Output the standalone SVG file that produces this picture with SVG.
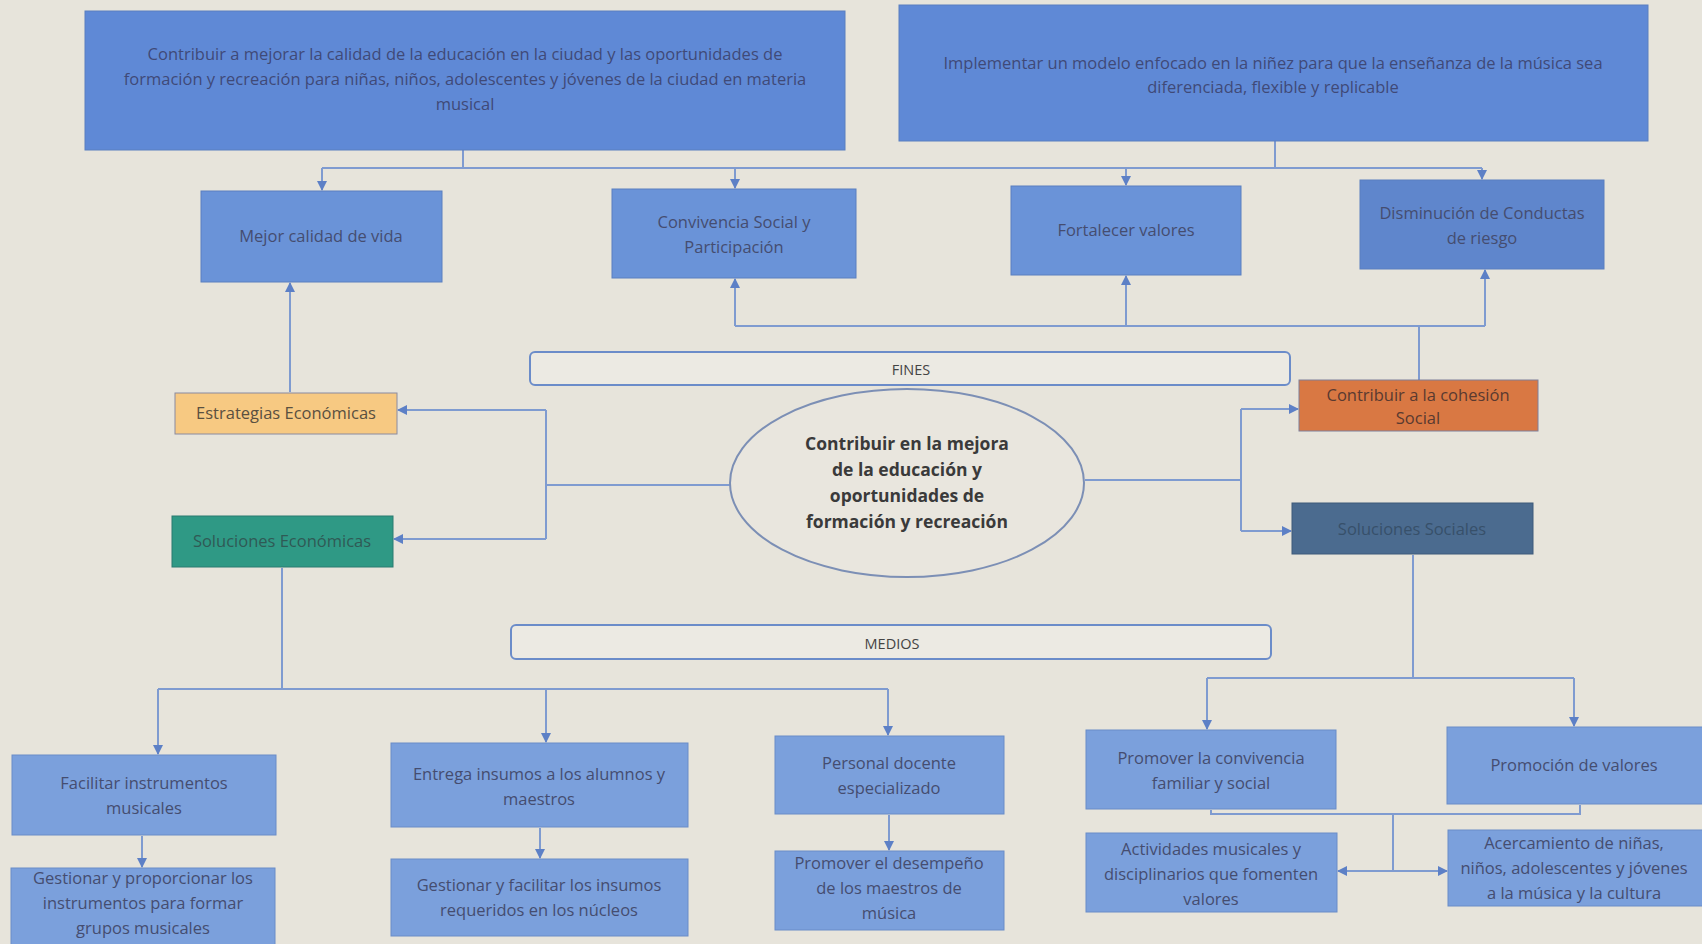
<svg xmlns="http://www.w3.org/2000/svg" width="1702" height="944" viewBox="0 0 1702 944">
<style>
.bg{fill:#e7e4db}
.box{fill:#6a93d8;stroke:#5a7fc0;stroke-width:1}
.top{fill:#5f89d6;stroke:#5a7fc0;stroke-width:1}
.low{fill:#7ba0dc;stroke:#6a8cc8;stroke-width:1}
.bar{fill:#eceae3;stroke:#6b8cc9;stroke-width:2}
.t{font-family:"Open Sans","Liberation Sans",sans-serif;font-size:16.5px;fill:#454d70;text-anchor:middle}
.ts{font-family:"Open Sans","Liberation Sans",sans-serif;font-size:16.5px;fill:#3f4a78;text-anchor:middle}
.tb{font-family:"Open Sans","Liberation Sans",sans-serif;font-size:17.5px;font-weight:bold;fill:#3a3a3a;text-anchor:middle}
.c{fill:none;stroke:#7f9bd0;stroke-width:2}
</style>
<defs>
<marker id="ah" viewBox="0 0 10 10" refX="9" refY="5" markerWidth="5" markerHeight="5" orient="auto-start-reverse"><path d="M0,0 L10,5 L0,10 z" fill="#5d80c6"/></marker>
</defs>
<rect class="bg" x="0" y="0" width="1702" height="944"/>

<g id="connectors">
<path class="c" d="M463,150 V168"/>
<path class="c" d="M1275,141 V168"/>
<path class="c" d="M322,168 H1482"/>
<path class="c" marker-end="url(#ah)" d="M322,168 V190"/>
<path class="c" marker-end="url(#ah)" d="M735,168 V188"/>
<path class="c" marker-end="url(#ah)" d="M1126,168 V185"/>
<path class="c" marker-end="url(#ah)" d="M1482,168 V179"/>
<path class="c" marker-end="url(#ah)" d="M290,392 V283"/>
<path class="c" d="M1419,380 V326 M735,326 H1485"/>
<path class="c" marker-end="url(#ah)" d="M735,326 V279"/>
<path class="c" marker-end="url(#ah)" d="M1126,326 V276"/>
<path class="c" marker-end="url(#ah)" d="M1485,326 V270"/>
<path class="c" d="M731,485 H546 M546,410 V539"/>
<path class="c" marker-end="url(#ah)" d="M546,410 H398"/>
<path class="c" marker-end="url(#ah)" d="M546,539 H394"/>
<path class="c" d="M1085,480 H1241 M1241,409 V531"/>
<path class="c" marker-end="url(#ah)" d="M1241,409 H1298"/>
<path class="c" marker-end="url(#ah)" d="M1241,531 H1291"/>
<path class="c" d="M282,568 V689 M158,689 H888"/>
<path class="c" marker-end="url(#ah)" d="M158,689 V754"/>
<path class="c" marker-end="url(#ah)" d="M546,689 V742"/>
<path class="c" marker-end="url(#ah)" d="M888,689 V735"/>
<path class="c" d="M1413,555 V678 M1207,678 H1574"/>
<path class="c" marker-end="url(#ah)" d="M1207,678 V729"/>
<path class="c" marker-end="url(#ah)" d="M1574,678 V726"/>
<path class="c" marker-end="url(#ah)" d="M142,836 V867"/>
<path class="c" marker-end="url(#ah)" d="M540,828 V858"/>
<path class="c" marker-end="url(#ah)" d="M889,815 V850"/>
<path class="c" d="M1211,810 V814 H1580 V805 M1393,814 V871"/>
<path class="c" marker-end="url(#ah)" d="M1393,871 H1338"/>
<path class="c" marker-end="url(#ah)" d="M1393,871 H1447"/>
</g>

<g id="objetivo1">
<rect class="top" x="85" y="11" width="760" height="139"/>
<text class="ts" x="465" y="60">Contribuir a mejorar la calidad de la educación en la ciudad y las oportunidades de</text>
<text class="ts" x="465" y="85">formación y recreación para niñas, niños, adolescentes y jóvenes de la ciudad en materia</text>
<text class="ts" x="465" y="110">musical</text>
</g>
<g id="objetivo2">
<rect class="top" x="899" y="5" width="749" height="136"/>
<text class="ts" x="1273" y="69">Implementar un modelo enfocado en la niñez para que la enseñanza de la música sea</text>
<text class="ts" x="1273" y="93">diferenciada, flexible y replicable</text>
</g>

<g id="mejor"><rect class="box" x="201" y="191" width="241" height="91"/><text class="t" x="321" y="242">Mejor calidad de vida</text></g>
<g id="convivencia"><rect class="box" x="612" y="189" width="244" height="89"/><text class="t" x="734" y="228">Convivencia Social y</text><text class="t" x="734" y="253">Participación</text></g>
<g id="fortalecer"><rect class="box" x="1011" y="186" width="230" height="89"/><text class="t" x="1126" y="236">Fortalecer valores</text></g>
<g id="disminucion"><rect class="box" x="1360" y="180" width="244" height="89" style="fill:#5f86cc"/><text class="t" x="1482" y="219">Disminución de Conductas</text><text class="t" x="1482" y="244">de riesgo</text></g>

<g id="fines"><rect class="bar" x="530" y="352" width="760" height="33" rx="5"/><text class="t" x="911" y="375" style="font-size:14.5px;fill:#444">FINES</text></g>
<g id="medios"><rect class="bar" x="511" y="625" width="760" height="34" rx="5"/><text class="t" x="892" y="649" style="font-size:14.5px;fill:#444">MEDIOS</text></g>

<g id="estrategias"><rect x="175" y="393" width="222" height="41" style="fill:#f7c982;stroke:#8a8aa0;stroke-width:1"/><text class="t" x="286" y="419" style="fill:#5a5040">Estrategias Económicas</text></g>
<g id="solucionesEco"><rect x="172" y="516" width="221" height="51" style="fill:#2f9985;stroke:#2a7a70;stroke-width:1"/><text class="t" x="282" y="547" style="fill:#2f5a55">Soluciones Económicas</text></g>
<g id="cohesion"><rect x="1299" y="380" width="239" height="51" style="fill:#d97843;stroke:#7f7f9a;stroke-width:1"/><text class="t" x="1418" y="401" style="fill:#5a3a30">Contribuir a la cohesión</text><text class="t" x="1418" y="424" style="fill:#5a3a30">Social</text></g>
<g id="solucionesSoc"><rect x="1292" y="503" width="241" height="51" style="fill:#4b6b8f;stroke:#3f5a7a;stroke-width:1"/><text class="t" x="1412" y="535" style="fill:#37506a">Soluciones Sociales</text></g>

<g id="centro">
<ellipse cx="907" cy="483" rx="177" ry="94" style="fill:#e9e6de;stroke:#7c8fb5;stroke-width:2"/>
<text class="tb" x="907" y="450">Contribuir en la mejora</text>
<text class="tb" x="907" y="476">de la educación y</text>
<text class="tb" x="907" y="502">oportunidades de</text>
<text class="tb" x="907" y="528">formación y recreación</text>
</g>

<g id="facilitar"><rect class="low" x="12" y="755" width="264" height="80"/><text class="t" x="144" y="789">Facilitar instrumentos</text><text class="t" x="144" y="814">musicales</text></g>
<g id="gestionar1"><rect class="low" x="11" y="868" width="264" height="82"/><text class="t" x="143" y="884">Gestionar y proporcionar los</text><text class="t" x="143" y="909">instrumentos para formar</text><text class="t" x="143" y="934">grupos musicales</text></g>
<g id="entrega"><rect class="low" x="391" y="743" width="297" height="84"/><text class="t" x="539" y="780">Entrega insumos a los alumnos y</text><text class="t" x="539" y="805">maestros</text></g>
<g id="gestionar2"><rect class="low" x="391" y="859" width="297" height="77"/><text class="t" x="539" y="891">Gestionar y facilitar los insumos</text><text class="t" x="539" y="916">requeridos en los núcleos</text></g>
<g id="personal"><rect class="low" x="775" y="736" width="229" height="78"/><text class="t" x="889" y="769">Personal docente</text><text class="t" x="889" y="794">especializado</text></g>
<g id="promoverDesempeno"><rect class="low" x="775" y="851" width="229" height="79"/><text class="t" x="889" y="869">Promover el desempeño</text><text class="t" x="889" y="894">de los maestros de</text><text class="t" x="889" y="919">música</text></g>
<g id="promoverConvivencia"><rect class="low" x="1086" y="730" width="250" height="79"/><text class="t" x="1211" y="764">Promover la convivencia</text><text class="t" x="1211" y="789">familiar y social</text></g>
<g id="promocionValores"><rect class="low" x="1447" y="727" width="260" height="77"/><text class="t" x="1574" y="771">Promoción de valores</text></g>
<g id="actividades"><rect class="low" x="1086" y="833" width="251" height="79"/><text class="t" x="1211" y="855">Actividades musicales y</text><text class="t" x="1211" y="880">disciplinarios que fomenten</text><text class="t" x="1211" y="905">valores</text></g>
<g id="acercamiento"><rect class="low" x="1448" y="830" width="260" height="76"/><text class="t" x="1574" y="849">Acercamiento de niñas,</text><text class="t" x="1574" y="874">niños, adolescentes y jóvenes</text><text class="t" x="1574" y="899">a la música y la cultura</text></g>
</svg>
